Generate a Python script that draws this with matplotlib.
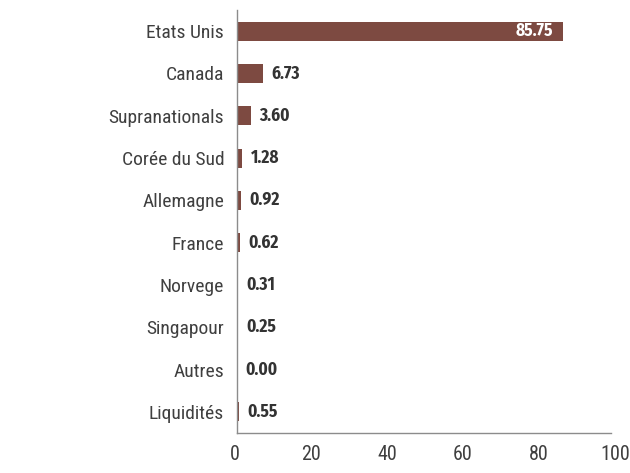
import matplotlib.pyplot as plt
from matplotlib.transforms import ScaledTranslation

countries = ['Etats Unis', 'Canada', 'Supranationals', 'Corée du Sud', 'Allemagne',
             'France', 'Norvege', 'Singapour', 'Autres', 'Liquidités']
weights = [85.75, 6.73, 3.60, 1.28, 0.92, 0.62, 0.31, 0.25, 0.00, 0.55]
xticks = [0, 20, 40, 60, 80, 100]

label_font = ['Roboto Condensed', 'Fira Sans Condensed', 'DejaVu Sans']
value_font = ['Fira Sans Condensed', 'Roboto Condensed', 'DejaVu Sans']
plt.rcParams['font.family'] = label_font

bar_color = '#7d4a41'
text_gray = '#3f3f3f'

fig = plt.figure(figsize=(6.3, 4.73), dpi=100)
ax = fig.add_axes([0.3757, 0.0846, 0.6037, 0.8943])

ypos = list(range(len(countries)))
ax.barh(ypos, weights, height=0.45, color=bar_color)
ax.set_ylim(len(countries) - 0.5, -0.5)
ax.set_xlim(-0.15, 100)
ax.set_yticks(ypos)
ax.set_yticklabels(countries, fontsize=14, color=text_gray)
ax.set_xticks(xticks)
ax.set_xticklabels([str(t) for t in xticks], fontsize=14.5, color=text_gray)
ax.tick_params(length=0)
ax.tick_params(axis='y', pad=9)
ax.tick_params(axis='x', pad=9)
# tick labels sit a little to the left in the original
shift = ScaledTranslation(-1.5 / 72, 0, fig.dpi_scale_trans)
for lab in ax.get_xticklabels():
    lab.set_transform(lab.get_transform() + shift)

for y, v in zip(ypos, weights):
    if v > 50:
        ax.annotate(f'{v:.2f}', (v, y), xytext=(-7, 0), textcoords='offset points',
                    ha='right', va='center', color='white', fontsize=12.5,
                    fontweight='bold', family=value_font)
    else:
        ax.annotate(f'{v:.2f}', (v, y), xytext=(6, 0), textcoords='offset points',
                    ha='left', va='center', color='#333333', fontsize=12.5,
                    fontweight='bold', family=value_font)

for side in ['top', 'right']:
    ax.spines[side].set_visible(False)
for side in ['left', 'bottom']:
    ax.spines[side].set_color('#8c8c8c')
    ax.spines[side].set_linewidth(1)
ax.spines['bottom'].set_bounds(-0.15, 98.5)

fig.savefig('out.png', dpi=100)
